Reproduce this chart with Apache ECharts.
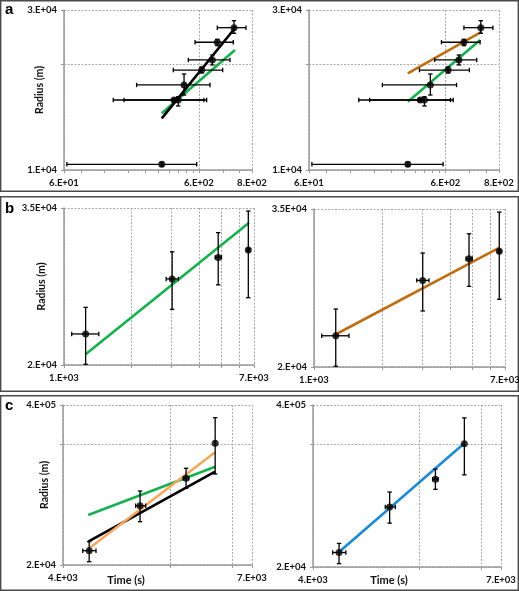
<!DOCTYPE html>
<html><head><meta charset="utf-8">
<script src="https://cdn.jsdelivr.net/npm/echarts@6/dist/echarts.min.js"></script>
<style>html,body{margin:0;padding:0;background:#fff}#c{width:519px;height:591px}</style>
</head><body><div id="c"></div>
<script>
// ---------- Panel a data (same in both a panels) ----------
const aX    = [318, 392, 421, 465, 628, 753, 820, 1090];
const aXlo  = [63, 139, 167, 207, 387, 500, 561, 820];
const aXhi  = [577, 684, 653, 724, 899, 1018, 1077, 1337];
const aY    = [10380, 15810, 15810, 17440, 19230, 20540, 23060, 25370];
const aYlo  = [10245, 15650, 15200, 16330, 18860, 19880, 22550, 24450];
const aYhi  = [10517, 15970, 16150, 18740, 19620, 21220, 23510, 26560];
const aLeftBlackX = [318, 1128],  aLeftBlackY = [14020, 25530];
const aLeftGreenX = [318, 1109],  aLeftGreenY = [14490, 21930];
const aRightBrownX = [318, 1109], aRightBrownY = [18820, 24720];
const aRightGreenX = [318, 1077], aRightGreenY = [15630, 23400];
// ---------- Panel b data ----------
const bX   = [1248, 3027, 4852, 6604];
const bXlo = [1082, 2848, 4706, 6519];
const bXhi = [1428, 3228, 5018, 6699];
const bY   = [22340, 27180, 29350, 30140];
const bYlo = [20050, 24390, 26610, 25420];
const bYhi = [24560, 29940, 32060, 34620];
const bLeftGreenX = [1248, 6653], bLeftGreenY = [20780, 33220];
const bRightBrownX = [1251, 6645], bRightBrownY = [22460, 30560];
// ---------- Panel c data ----------
const cX   = [3942, 4578, 5241, 5709];
const cXlo = [3868, 4519, 5198, 5709];
const cXhi = [4022, 4655, 5282, 5709];
const cY   = [26260, 61800, 104100, 202700];
const cYlo = [21300, 45600, 86100, 113000];
const cYhi = [31160, 81780, 126000, 329900];
const cLeftBlackX = [3931, 5709],  cLeftBlackY = [31160, 118000];
const cLeftOrangeX = [3931, 5709], cLeftOrangeY = [27120, 170800];
const cLeftGreenX = [3931, 5709],  cLeftGreenY = [51780, 129800];
const cRightBlueX = [3942, 5709],  cRightBlueY = [26500, 205000];
// ---------- Axes: ranges, gridlines, tick labels ----------
const aXRange = [60, 1482],  aXGrid = [60, 600, 1482], aXMinor = [80, 120, 180, 240, 300, 360, 420, 480, 540, 900, 1200];
const aXTickVals = [60, 600, 1482], aXTickLabels = ['6.E+01', '6.E+02', '8.E+02'];
const aYRange = [10000, 28480], aYGrid = [10000, 20000, 28480];
const aYTickVals = [10000, 28480], aYTickLabels = ['1.E+04', '3.E+04'];
const bXRange = [1000, 7000], bXGrid = [1000, 2000, 3000, 4000, 5000, 6000, 7000];
const bXTickVals = [1000, 7000], bXTickLabels = ['1.E+03', '7.E+03'];
const bYRange = [20000, 35000], bYGrid = [20000, 35000];
const bYTickVals = [20000, 35000], bYTickLabels = ['2.E+04', '3.5E+04'];
const cXRange = [3650, 6362], cXGrid = [3650, 5000, 6000, 6362];
const cXTickVals = [3650, 6362], cXTickLabels = ['4.E+03', '7.E+03'];
const cYRange = [20000, 420000], cYGrid = [20000, 200000, 420000];
const cYTickVals = [20000, 420000], cYTickLabels = ['2.E+04', '4.E+05'];

const lg = Math.log10;
const FONT = 'Lato';
const AXIS_COLOR = '#9a9a9a';

function fmt(vals, labels) {
  const lv = vals.map(lg);
  return function (v) {
    let best = 0, d = Infinity;
    lv.forEach((x, i) => { const dd = Math.abs(x - v); if (dd < d) { d = dd; best = i; } });
    return d < 1e-6 ? labels[best] : '';
  };
}
function axis(kind, gi, range, grid, tickVals, tickLabels, extra) {
  const o = {
    type: 'value', gridIndex: gi, min: lg(range[0]), max: lg(range[1]),
    axisLine: { show: true, onZero: false, lineStyle: { color: AXIS_COLOR, width: 1.5 } },
    axisTick: { show: true, customValues: grid.map(lg), length: 3, lineStyle: { color: AXIS_COLOR } },
    axisLabel: { customValues: tickVals.map(lg), formatter: fmt(tickVals, tickLabels), color: '#111',
      fontFamily: FONT, fontWeight: 'bold', fontSize: 9.5, margin: kind === 'x' ? 8 : 7 },
    splitLine: { show: true, lineStyle: { color: '#a8a8a8', type: [2, 1.5], width: 1 } }
  };
  return Object.assign(o, extra || {});
}
function minorAxis(gi, range, vals) {
  return { type: 'value', gridIndex: gi, min: lg(range[0]), max: lg(range[1]), position: 'bottom',
    axisLine: { show: false }, axisLabel: { show: false }, splitLine: { show: false },
    axisTick: { show: true, customValues: vals.map(lg), length: 3, lineStyle: { color: AXIS_COLOR } } };
}
const yName = (gap) => ({ name: 'Radius (m)', nameLocation: 'middle', nameGap: gap, nameMoveOverlap: false,
  nameTextStyle: { fontFamily: FONT, fontWeight: 'bold', fontSize: 10.5, color: '#111' } });

const grids = [
  { left: 64, top: 10, width: 188, height: 160 },
  { left: 309, top: 10, width: 190, height: 160 },
  { left: 64, top: 208, width: 190, height: 157 },
  { left: 314, top: 209, width: 191, height: 158 },
  { left: 63, top: 405, width: 189, height: 160 },
  { left: 313, top: 405, width: 188, height: 162 }
].map(g => Object.assign({ outerBoundsMode: 'none', containLabel: false }, g));

const xAxes = [
  axis('x', 0, aXRange, aXGrid, aXTickVals, aXTickLabels),
  axis('x', 1, aXRange, aXGrid, aXTickVals, aXTickLabels),
  axis('x', 2, bXRange, bXGrid, bXTickVals, bXTickLabels),
  axis('x', 3, bXRange, bXGrid, bXTickVals, bXTickLabels),
  axis('x', 4, cXRange, cXGrid, cXTickVals, cXTickLabels),
  axis('x', 5, cXRange, cXGrid, cXTickVals, cXTickLabels),
  minorAxis(0, aXRange, aXMinor),
  minorAxis(1, aXRange, aXMinor)
];
const yAxes = [
  axis('y', 0, aYRange, aYGrid, aYTickVals, aYTickLabels, yName(19)),
  axis('y', 1, aYRange, aYGrid, aYTickVals, aYTickLabels),
  axis('y', 2, bYRange, bYGrid, bYTickVals, bYTickLabels, yName(17)),
  axis('y', 3, bYRange, bYGrid, bYTickVals, bYTickLabels),
  axis('y', 4, cYRange, cYGrid, cYTickVals, cYTickLabels, yName(13)),
  axis('y', 5, cYRange, cYGrid, cYTickVals, cYTickLabels)
];

function errSeries(gi, X, Xlo, Xhi, Y, Ylo, Yhi) {
  return {
    type: 'custom', xAxisIndex: gi, yAxisIndex: gi, silent: true, z: 4,
    data: X.map((x, i) => [lg(x), lg(Y[i]), lg(Xlo[i]), lg(Xhi[i]), lg(Ylo[i]), lg(Yhi[i])]),
    renderItem: function (params, api) {
      const y = api.value(1), x = api.value(0);
      const pl = api.coord([api.value(2), y]), pr = api.coord([api.value(3), y]);
      const pb = api.coord([x, api.value(4)]), pt = api.coord([x, api.value(5)]);
      const st = { stroke: '#000', lineWidth: 1.3 };
      const ch = [];
      const c = 2.2;
      if (pr[0] - pl[0] > 1) {
        ch.push({ type: 'line', shape: { x1: pl[0], y1: pl[1], x2: pr[0], y2: pr[1] }, style: st });
        ch.push({ type: 'line', shape: { x1: pl[0], y1: pl[1] - c, x2: pl[0], y2: pl[1] + c }, style: st });
        ch.push({ type: 'line', shape: { x1: pr[0], y1: pr[1] - c, x2: pr[0], y2: pr[1] + c }, style: st });
      }
      if (pb[1] - pt[1] > 1) {
        ch.push({ type: 'line', shape: { x1: pb[0], y1: pb[1], x2: pt[0], y2: pt[1] }, style: st });
        ch.push({ type: 'line', shape: { x1: pb[0] - c, y1: pb[1], x2: pb[0] + c, y2: pb[1] }, style: st });
        ch.push({ type: 'line', shape: { x1: pt[0] - c, y1: pt[1], x2: pt[0] + c, y2: pt[1] }, style: st });
      }
      return { type: 'group', children: ch };
    }
  };
}
function ptSeries(gi, X, Y) {
  return { type: 'scatter', xAxisIndex: gi, yAxisIndex: gi, silent: true, z: 5,
    symbol: 'circle', symbolSize: 7, itemStyle: { color: '#000' },
    data: X.map((x, i) => [lg(x), lg(Y[i])]) };
}
function lineSeries(gi, X, Y, color, z) {
  return { type: 'line', xAxisIndex: gi, yAxisIndex: gi, silent: true, z: z || 3,
    showSymbol: false, symbol: 'none', lineStyle: { color: color, width: 2.6 },
    data: X.map((x, i) => [lg(x), lg(Y[i])]) };
}

const GREEN = '#17b04f', BROWN = '#bf6d12', ORANGE = '#f6a75e', BLUE = '#1d8ad2';
const series = [
  lineSeries(0, aLeftGreenX, aLeftGreenY, GREEN, 3),
  lineSeries(0, aLeftBlackX, aLeftBlackY, '#000', 3),
  errSeries(0, aX, aXlo, aXhi, aY, aYlo, aYhi), ptSeries(0, aX, aY),
  lineSeries(1, aRightBrownX, aRightBrownY, BROWN, 3),
  lineSeries(1, aRightGreenX, aRightGreenY, GREEN, 3),
  errSeries(1, aX, aXlo, aXhi, aY, aYlo, aYhi), ptSeries(1, aX, aY),
  lineSeries(2, bLeftGreenX, bLeftGreenY, GREEN, 3),
  errSeries(2, bX, bXlo, bXhi, bY, bYlo, bYhi), ptSeries(2, bX, bY),
  lineSeries(3, bRightBrownX, bRightBrownY, BROWN, 3),
  errSeries(3, bX, bXlo, bXhi, bY, bYlo, bYhi), ptSeries(3, bX, bY),
  lineSeries(4, cLeftGreenX, cLeftGreenY, GREEN, 3),
  lineSeries(4, cLeftBlackX, cLeftBlackY, '#000', 3),
  lineSeries(4, cLeftOrangeX, cLeftOrangeY, ORANGE, 3),
  errSeries(4, cX, cXlo, cXhi, cY, cYlo, cYhi), ptSeries(4, cX, cY),
  lineSeries(5, cRightBlueX, cRightBlueY, BLUE, 3),
  errSeries(5, cX, cXlo, cXhi, cY, cYlo, cYhi), ptSeries(5, cX, cY)
];

const boxStyle = { fill: 'none', stroke: '#4a4a4a', lineWidth: 1.4 };
const panelLetterStyle = (t, x, y) => ({ type: 'text', x: x, y: y, style: { text: t, font: 'bold 15px "Liberation Sans"', fill: '#000' } });
const timeText = (x) => ({ type: 'text', x: x, y: 580, style: { text: 'Time (s)', font: 'bold 11px Lato', fill: '#111', align: 'center', verticalAlign: 'middle' } });
const graphic = [
  { type: 'rect', shape: { x: 0.7, y: 0.7, width: 517.6, height: 190.6 }, style: boxStyle },
  { type: 'rect', shape: { x: 0.7, y: 196.7, width: 517.6, height: 194.6 }, style: boxStyle },
  { type: 'rect', shape: { x: 0.7, y: 395.7, width: 517.6, height: 194.6 }, style: boxStyle },
  panelLetterStyle('a', 5, 2), panelLetterStyle('b', 5, 201), panelLetterStyle('c', 5, 398),
  timeText(126), timeText(389)
];

const chart = echarts.init(document.getElementById('c'), null, { renderer: 'canvas' });
chart.setOption({ animation: false, backgroundColor: '#fff', grid: grids, xAxis: xAxes, yAxis: yAxes, series: series, graphic: graphic });
</script></body></html>
